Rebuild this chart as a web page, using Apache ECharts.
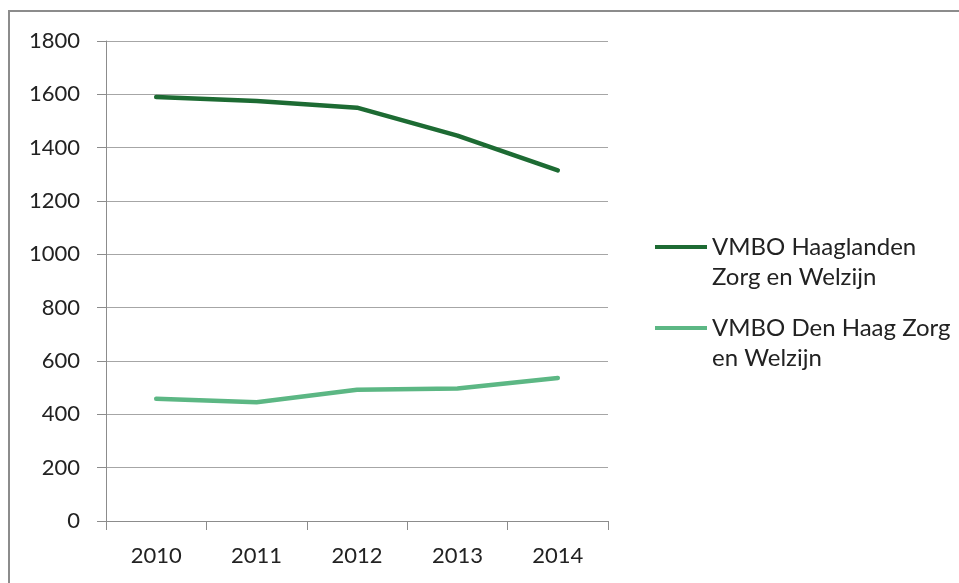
<!DOCTYPE html>
<html>
<head>
<meta charset="utf-8">
<script src="https://cdn.jsdelivr.net/npm/echarts@6/dist/echarts.min.js"></script>
<style>
  html, body { margin: 0; padding: 0; background: #fff; }
  #chart { width: 959px; height: 583px; }
</style>
</head>
<body>
<div id="chart"></div>
<script>
// data
var years = ['2010', '2011', '2012', '2013', '2014'];
var haaglanden = [1590, 1575, 1550, 1445, 1315];
var denHaag = [458, 445, 492, 497, 536];
var seriesNames = ['VMBO Haaglanden Zorg en Welzijn', 'VMBO Den Haag Zorg en Welzijn'];
// how the legend wraps each name
var legendLines = {
  'VMBO Haaglanden Zorg en Welzijn': ['VMBO Haaglanden', 'Zorg en Welzijn'],
  'VMBO Den Haag Zorg en Welzijn': ['VMBO Den Haag Zorg', 'en Welzijn']
};

var darkGreen = '#1d6b33';
var lightGreen = '#5cb784';
var font = 'Lato, "Open Sans", sans-serif';

var myChart = echarts.init(document.getElementById('chart'));

function legendBox(name, top) {
  return {
    data: [name],
    left: 650,
    top: top,
    orient: 'vertical',
    icon: 'rect',
    itemWidth: 52,
    itemHeight: 4,
    itemGap: 0,
    selectedMode: false,
    // empty first line so the icon lines up with the first text line
    formatter: function (n) {
      var l = legendLines[n];
      return '{pad| }\n{t|' + l[0] + '}\n{t|' + l[1] + '}';
    },
    textStyle: {
      fontFamily: font,
      fontSize: 24,
      color: '#222',
      rich: {
        pad: { fontSize: 24, lineHeight: 30, fontFamily: font },
        t: { fontSize: 24, lineHeight: 30, fontFamily: font, color: '#222' }
      }
    }
  };
}

var option = {
  animation: false,
  backgroundColor: '#fff',
  graphic: [{
    type: 'rect',
    shape: { x: 9, y: 11, width: 1000, height: 620 },
    style: { fill: 'none', stroke: '#8c8c8c', lineWidth: 2 },
    silent: true
  }],
  legend: [
    legendBox(seriesNames[0], 200),
    legendBox(seriesNames[1], 281)
  ],
  grid: {
    left: 106,
    top: 41,
    right: 351,
    bottom: 62
  },
  xAxis: {
    type: 'category',
    data: years,
    boundaryGap: true,
    axisLine: { show: true, lineStyle: { color: '#8c8c8c', width: 1 } },
    axisTick: { show: true, length: 9, lineStyle: { color: '#8c8c8c' } },
    axisLabel: { fontFamily: font, fontSize: 22, color: '#222', margin: 24 }
  },
  yAxis: {
    type: 'value',
    min: 0,
    max: 1800,
    interval: 200,
    axisLine: { show: true, lineStyle: { color: '#8c8c8c', width: 1 } },
    axisTick: { show: true, length: 9, lineStyle: { color: '#8c8c8c' } },
    axisLabel: {
      fontFamily: font, fontSize: 22, color: '#222', margin: 26,
      formatter: function (v) { return String(v); }
    },
    splitLine: { show: true, lineStyle: { color: '#a6a6a6', width: 1 } }
  },
  series: [
    {
      name: seriesNames[0],
      type: 'line',
      data: haaglanden,
      symbol: 'none',
      color: darkGreen,
      lineStyle: { color: darkGreen, width: 4.5, cap: 'round' }
    },
    {
      name: seriesNames[1],
      type: 'line',
      data: denHaag,
      symbol: 'none',
      color: lightGreen,
      lineStyle: { color: lightGreen, width: 4.5, cap: 'round' }
    }
  ]
};

myChart.setOption(option);
</script>
</body>
</html>
